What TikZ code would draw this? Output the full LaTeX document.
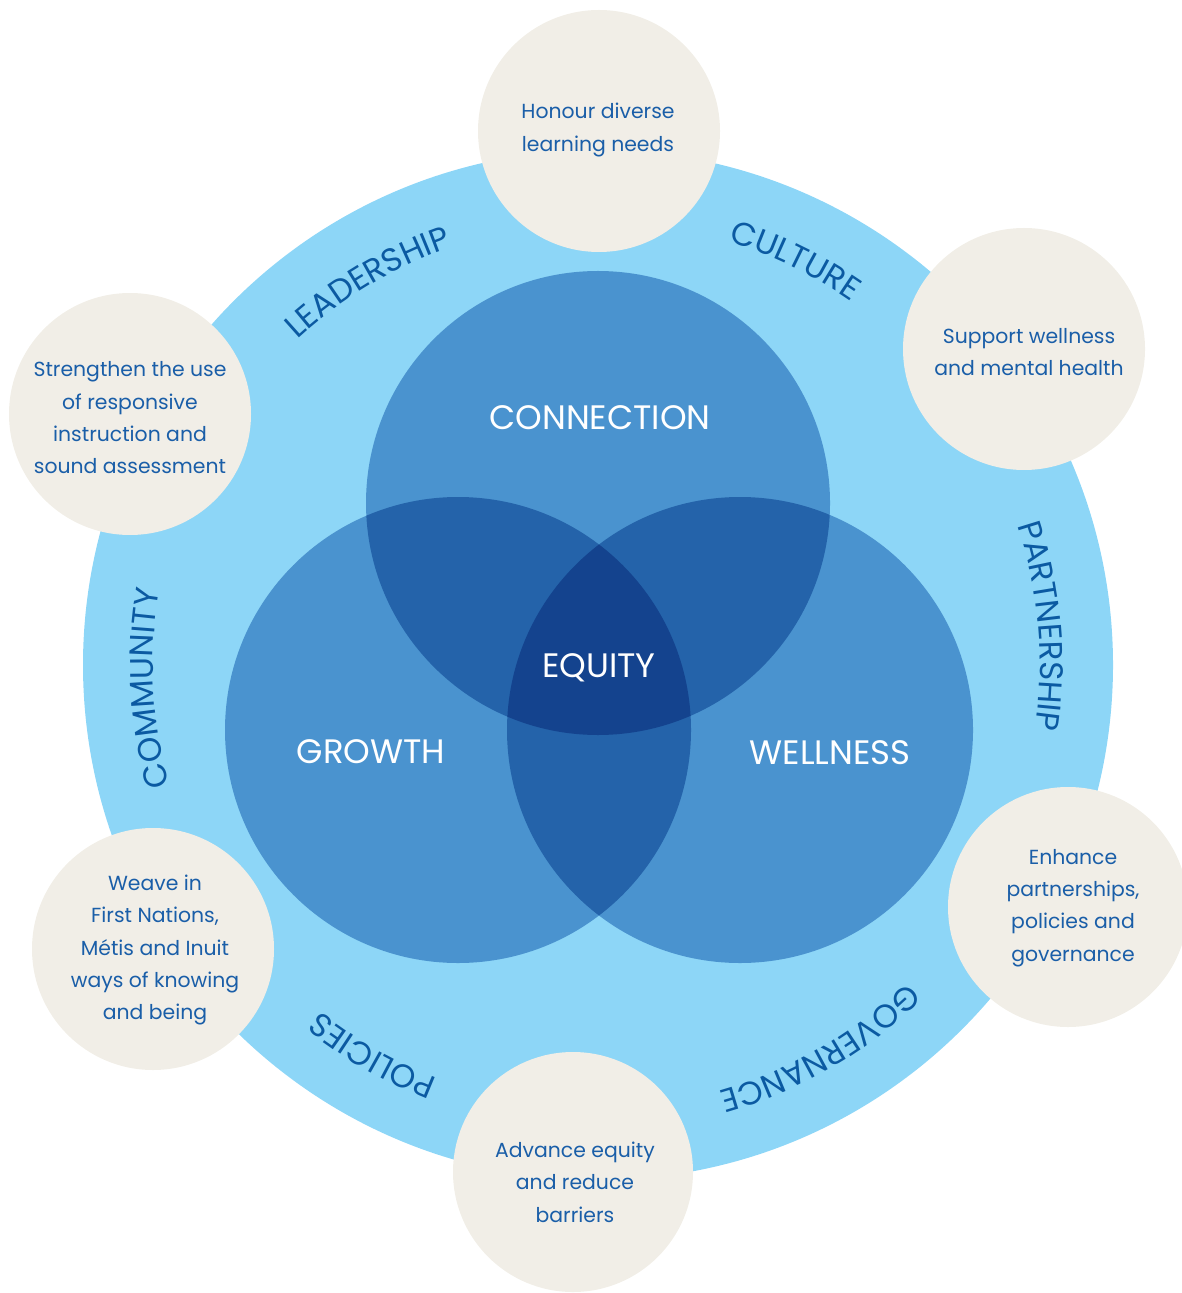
\documentclass[tikz,border=0pt]{standalone}
\usepackage{fontspec}
\setmainfont{Poppins}
\usetikzlibrary{decorations.text}

\definecolor{ringblue}{HTML}{8DD6F7}
\definecolor{midblue}{HTML}{4A93CF}
\definecolor{pairblue}{HTML}{2463AA}
\definecolor{coreblue}{HTML}{14438E}
\definecolor{sand}{HTML}{F1EEE7}
\definecolor{inkblue}{HTML}{1A5EA8}
\definecolor{ringink}{HTML}{0B5AA2}

\newcommand{\ringfont}{\fontsize{18.6}{21}\selectfont}

\begin{document}
\begin{tikzpicture}[x=0.02cm, y=0.02cm,
  bubble/.style={fill=sand},
  bubbletext/.style={align=center, text=inkblue, font=\fontsize{11.6}{18.4}\selectfont},
  bigword/.style={text=white, font=\fontsize{19.3}{22}\selectfont}]
\useasboundingbox (0,0) rectangle (1181,-1293);

% centres
\coordinate (O) at (598,-665);
\coordinate (C) at (598,-503);
\coordinate (G) at (458,-730);
\coordinate (W) at (740,-730);

% outer ring
\fill[ringblue] (O) circle (515);

% three circles
\fill[midblue] (C) circle (232);
\fill[midblue] (G) circle (233);
\fill[midblue] (W) circle (233);
\begin{scope}
  \clip (C) circle (232);
  \fill[pairblue] (G) circle (233);
  \fill[pairblue] (W) circle (233);
\end{scope}
\begin{scope}
  \clip (G) circle (233);
  \fill[pairblue] (W) circle (233);
\end{scope}
\begin{scope}
  \clip (C) circle (232);
  \clip (G) circle (233);
  \fill[coreblue] (W) circle (233);
\end{scope}

\node[bigword] (connection) at (600,-418) {CONNECTION};
\node[bigword] (equity) at (599,-668) {EQUITY};
\node[bigword] (growth) at (371,-752) {GROWTH};
\node[bigword] (wellness) at (830,-753) {WELLNESS};

% words round the ring
\path[decorate, decoration={text along path, text align=center, text color=ringink, text={|\ringfont|LEADERSHIP}}]
  (O) ++(161:443) arc[start angle=161, end angle=81, radius=443];
\path[decorate, decoration={text along path, text align=center, text color=ringink, text={|\ringfont|CULTURE}}]
  (O) ++(104:443) arc[start angle=104, end angle=24, radius=443];
\path[decorate, decoration={text along path, text align=center, text color=ringink, text={|\ringfont|PARTNERSHIP}}]
  (O) ++(45:442) arc[start angle=45, end angle=-35, radius=442];
\path[decorate, decoration={text along path, text align=center, text color=ringink, text={|\ringfont|GOVERNANCE}}]
  (O) ++(-20:443) arc[start angle=-20, end angle=-100, radius=443];
\path[decorate, decoration={text along path, text align=center, text color=ringink, text={|\ringfont|POLICIES}}]
  (O) ++(-80:444) arc[start angle=-80, end angle=-160, radius=444];
\path[decorate, decoration={text along path, text align=center, text color=ringink, text={|\ringfont|COMMUNITY}}]
  (O) ++(223:445) arc[start angle=223, end angle=143, radius=445];

% bubbles
\fill[bubble] (599,-131) circle (121);
\node[bubbletext] (honour) at (598,-130) {Honour diverse\\learning needs};

\fill[bubble] (1024,-349) circle (121);
\node[bubbletext] (support) at (1029,-352) {Support wellness\\and mental health};

\fill[bubble] (130,-414) circle (121);
\node[bubbletext] (strengthen) at (130,-418) {Strengthen the use\\of responsive\\instruction and\\sound assessment};

\fill[bubble] (1068,-907) circle (120);
\node[bubbletext] (enhance) at (1073,-908) {Enhance\\partnerships,\\policies and\\governance};

\fill[bubble] (153,-949) circle (121);
\node[bubbletext] (weave) at (155,-950) {Weave in\\First Nations,\\Métis and Inuit\\ways of knowing\\and being};

\fill[bubble] (573,-1172) circle (120);
\node[bubbletext] (advance) at (575,-1182) {Advance equity\\and reduce\\barriers};

\end{tikzpicture}
\end{document}
